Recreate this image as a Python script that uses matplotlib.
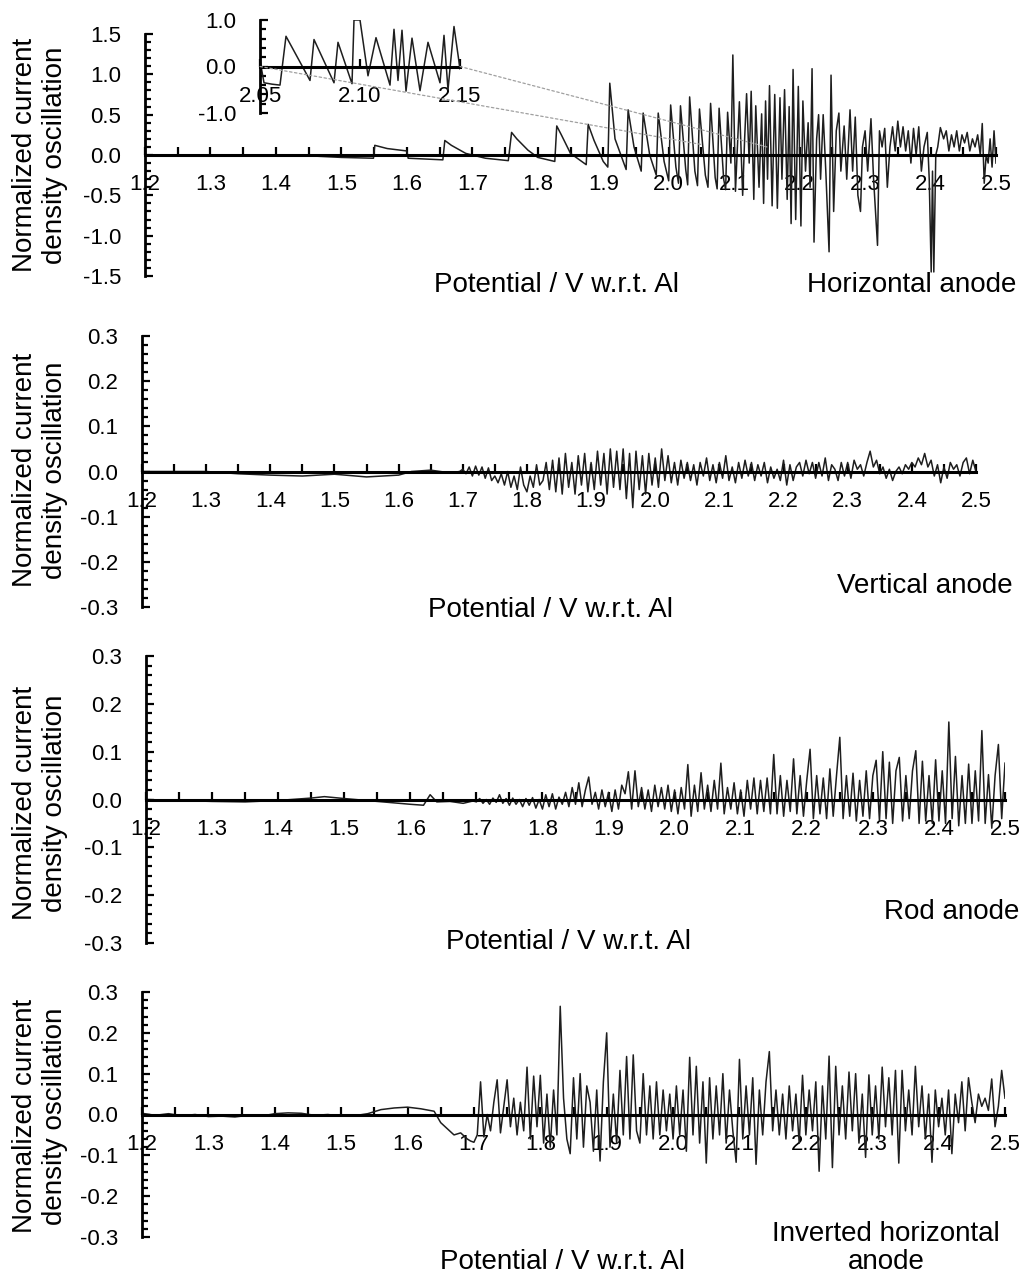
import numpy as np
import matplotlib.pyplot as plt
from matplotlib.ticker import MultipleLocator, FormatStrFormatter
from matplotlib.patches import ConnectionPatch

plt.rcParams['font.family'] = ['Liberation Sans', 'DejaVu Sans']
plt.rcParams['axes.unicode_minus'] = False

W, H = 1032, 1276
LINE = '#1e1e1e'

# ── Horizontal anode: vertices ────────────────────────────────────
horiz_x = [1.200, 1.300, 1.400, 1.450, 1.500, 1.549, 1.551, 1.570, 1.600, 1.602,
           1.630, 1.655, 1.658, 1.668, 1.690, 1.720, 1.755, 1.760, 1.768, 1.785,
           1.800, 1.826, 1.829, 1.836, 1.850, 1.874, 1.877, 1.886, 1.900, 1.907,
           1.910, 1.918, 1.935, 1.938, 1.947, 1.958, 1.961, 1.971, 1.981, 1.984,
           1.993, 2.000, 2.003, 2.011, 2.015, 2.018, 2.026, 2.029, 2.032, 2.040,
           2.044, 2.047, 2.056, 2.060, 2.064, 2.071, 2.074, 2.077, 2.084, 2.087,
           2.090, 2.095, 2.098, 2.102, 2.105, 2.108, 2.113, 2.116, 2.119, 2.123,
           2.126, 2.130, 2.133, 2.138, 2.142, 2.145, 2.148, 2.151, 2.154, 2.158,
           2.162, 2.166, 2.170, 2.173, 2.177, 2.181, 2.184, 2.187, 2.190, 2.194,
           2.198, 2.202, 2.205, 2.209, 2.213, 2.216, 2.219, 2.222, 2.226, 2.229,
           2.232, 2.236, 2.240, 2.245, 2.248, 2.252, 2.256, 2.260, 2.263, 2.268,
           2.272, 2.277, 2.281, 2.285, 2.289, 2.293, 2.296, 2.300, 2.304, 2.309,
           2.313, 2.319, 2.322, 2.326, 2.330, 2.334, 2.338, 2.342, 2.346, 2.350,
           2.354, 2.358, 2.362, 2.366, 2.370, 2.374, 2.378, 2.382, 2.386, 2.390,
           2.395, 2.398, 2.401, 2.403, 2.405, 2.408, 2.411, 2.415, 2.420, 2.424,
           2.428, 2.432, 2.436, 2.440, 2.444, 2.448, 2.452, 2.456, 2.460, 2.464,
           2.468, 2.472, 2.476, 2.479, 2.482, 2.485, 2.488, 2.491, 2.494, 2.497,
           2.500]
horiz_y = [0.00, 0.00, -0.01, -0.01, -0.03, -0.04, 0.12, 0.08, 0.05, -0.04,
           -0.05, -0.06, 0.18, 0.12, 0.02, -0.04, -0.07, 0.28, 0.20, 0.06,
           -0.03, -0.08, 0.36, 0.25, 0.02, -0.12, 0.38, 0.18, -0.08, -0.15,
           0.89, 0.20, -0.18, 0.56, 0.10, -0.20, 0.52, 0.00, -0.25, 0.52,
           -0.08, -0.32, 0.62, -0.15, -0.35, 0.61, -0.18, -0.37, 0.72, -0.20,
           -0.38, 0.57, -0.25, -0.40, 0.64, -0.28, -0.42, 0.58, -0.30, -0.43,
           0.53, -0.10, 1.24, -0.45, 0.10, 0.66, -0.50, 0.20, 0.76, -0.10,
           0.79, -0.55, 0.61, -0.40, 0.51, -0.60, 0.67, -0.30, 0.86, -0.63,
           0.75, -0.66, 0.71, -0.30, 0.81, -0.55, 0.60, -0.85, 1.06, -0.80,
           0.85, -0.88, 0.67, -0.20, 0.40, -0.40, 1.07, -1.08, 0.20, 0.50,
           -0.30, 0.50, -0.20, -1.20, 0.99, -0.70, 0.30, 0.52, -0.20, 0.36,
           -0.30, 0.56, -0.20, 0.47, -0.50, -0.70, 0.10, 0.30, -0.20, 0.45,
           -0.30, -1.12, 0.30, 0.10, 0.33, -0.40, 0.10, 0.35, 0.05, 0.42,
           0.10, 0.35, 0.05, 0.30, -0.10, 0.33, 0.00, 0.35, -0.20, 0.10,
           0.28, -0.30, -1.45, -0.20, -1.45, 0.00, 0.10, 0.34, 0.20, 0.30,
           0.05, 0.25, 0.10, 0.30, 0.05, 0.25, 0.15, 0.28, 0.05, 0.20,
           0.10, 0.25, 0.00, 0.39, -0.35, 0.00, -0.10, 0.20, -0.15, 0.30,
           -0.10]

# inset (2.05 - 2.15 V)
inset_x = [2.050, 2.052, 2.056, 2.060, 2.063, 2.075, 2.077, 2.087, 2.089, 2.096,
           2.097, 2.100, 2.104, 2.108, 2.115, 2.117, 2.119, 2.121, 2.123, 2.126,
           2.130, 2.134, 2.140, 2.142, 2.144, 2.147, 2.150]
inset_y = [0.13, -0.35, -0.38, -0.40, 0.65, -0.30, 0.58, -0.35, 0.52, -0.37,
           1.00, 1.00, -0.20, 0.62, -0.40, 0.80, -0.30, 0.78, -0.53, 0.61,
           -0.52, 0.52, -0.35, 0.67, -0.50, 0.86, -0.05]

# ── Vertical anode ────────────────────────────────────────────────
vert_quiet_x = [1.20, 1.30, 1.35, 1.40, 1.45, 1.50, 1.55, 1.60, 1.62, 1.65, 1.68, 1.695]
vert_quiet_y = [0.0, 0.0, -0.005, -0.008, -0.01, -0.006, -0.012, -0.008, 0.0, 0.003, -0.003, 0.0]
vert_noisy_y = [
    0.005, -0.005, 0.01, -0.01, 0.012, -0.008, 0.01, -0.015, 0.008, -0.02,
    -0.01, -0.025, -0.005, -0.03, 0.0, -0.035, -0.01, -0.04, 0.01, -0.03,
    -0.045, -0.01, -0.035, 0.015, -0.03, -0.02, 0.02, -0.04, 0.025, -0.045,
    0.03, -0.05, 0.04, -0.035, 0.02, -0.05, 0.035, -0.03, 0.04, -0.045,
    0.02, -0.04, 0.045, -0.03, 0.04, -0.05, 0.05, -0.035, 0.045, -0.04,
    0.05, -0.06, 0.04, -0.08, 0.045, -0.04, 0.035, -0.05, 0.04, -0.03,
    0.03, -0.035, 0.05, -0.02, 0.035, -0.025, 0.02, -0.03, 0.025, -0.015,
    0.02, -0.02, 0.015, -0.03, 0.02, -0.01, 0.03, -0.02, 0.015, -0.025,
    0.02, -0.015, 0.035, -0.02, 0.01, -0.025, 0.02, -0.015, 0.025, -0.01,
    0.02, -0.02, 0.015, -0.01, 0.02, -0.025, 0.01, -0.015, 0.005, -0.02,
    0.025, -0.03, 0.015, -0.02, 0.01, 0.02, -0.01, 0.025, -0.005, 0.02,
    -0.015, 0.02, -0.01, 0.03, -0.02, 0.015, 0.005, -0.02, 0.02, -0.01,
    0.02, -0.015, 0.025, 0.005, 0.015, -0.01, 0.02, 0.045, 0.01, 0.025,
    -0.005, 0.01, -0.015, 0.005, -0.02, 0.0, 0.01, -0.005, 0.015, 0.005,
    0.02, 0.01, 0.03, 0.015, 0.04, 0.01, 0.025, -0.01, 0.015, -0.025,
    0.01, -0.015, 0.02, 0.005, 0.015, -0.01, 0.02, 0.03, -0.005, 0.025,
    0.0]

# ── Rod anode ─────────────────────────────────────────────────────
rod_quiet_x = [1.20, 1.25, 1.30, 1.35, 1.40, 1.45, 1.47, 1.50, 1.55, 1.60,
               1.62, 1.63, 1.64, 1.66, 1.68, 1.695]
rod_quiet_y = [0.0, -0.002, -0.004, -0.005, -0.002, 0.003, 0.006, 0.002, -0.004, -0.01,
               -0.012, 0.01, -0.005, -0.004, -0.008, -0.003]
rod_noisy_y = [
    -0.005, 0.002, -0.008, 0.0, -0.01, 0.003, -0.006, 0.01, -0.008, 0.002,
    -0.012, 0.003, -0.01, 0.0, -0.015, 0.002, -0.012, 0.004, -0.018, 0.0,
    -0.02, 0.01, -0.015, 0.012, -0.02, 0.005, -0.01, 0.015, -0.015, 0.025,
    -0.01, 0.035, -0.015, 0.02, 0.047, -0.01, 0.015, -0.02, 0.02, -0.015,
    0.015, -0.025, 0.02, -0.02, 0.03, 0.012, 0.058, -0.02, 0.06, -0.015,
    0.025, -0.02, 0.02, -0.025, 0.03, -0.015, 0.025, -0.02, 0.03, -0.025,
    0.02, -0.03, 0.025, -0.02, 0.073, -0.035, 0.03, -0.025, 0.056, -0.02,
    0.03, -0.025, 0.04, -0.02, 0.076, -0.03, 0.025, -0.02, 0.035, -0.03,
    0.02, -0.035, 0.04, -0.02, 0.045, -0.03, 0.04, -0.025, 0.045, -0.03,
    0.094, -0.03, 0.05, -0.035, 0.04, -0.025, 0.085, -0.03, 0.05, -0.035,
    0.04, 0.105, -0.04, 0.05, -0.03, 0.045, -0.04, 0.064, -0.035, 0.05,
    0.13, -0.04, 0.05, -0.035, 0.055, -0.045, 0.04, -0.035, 0.06, -0.04,
    0.05, 0.082, -0.045, 0.1, -0.04, 0.078, -0.05, 0.06, 0.088, -0.045,
    0.05, -0.04, 0.06, 0.102, -0.05, 0.08, -0.045, 0.05, -0.05, 0.083,
    -0.045, 0.06, -0.05, 0.162, -0.04, 0.09, -0.055, 0.05, -0.05, 0.074,
    -0.05, 0.06, -0.045, 0.144, -0.05, 0.052, -0.06, 0.05, 0.115, -0.04,
    0.076]

# ── Inverted horizontal anode ─────────────────────────────────────
inv_quiet_x = [1.20, 1.22, 1.24, 1.26, 1.28, 1.30, 1.32, 1.34, 1.36, 1.38,
               1.40, 1.42, 1.44, 1.46, 1.48, 1.50, 1.52, 1.54, 1.56, 1.58,
               1.60, 1.62, 1.64, 1.65, 1.66, 1.67, 1.68, 1.69, 1.695]
inv_quiet_y = [0.003, -0.002, 0.002, -0.003, 0.0, -0.005, -0.004, -0.006, -0.002, -0.004,
               0.002, 0.004, 0.003, -0.002, 0.0, -0.004, -0.003, 0.002, 0.012, 0.016,
               0.018, 0.014, 0.008, -0.02, -0.035, -0.05, -0.045, -0.06, -0.065]
inv_noisy_y = [
    -0.068, -0.05, 0.08, -0.055, 0.0, -0.04, 0.03, 0.085, -0.045, 0.02,
    0.085, -0.03, 0.04, -0.05, 0.03, -0.04, 0.116, -0.06, 0.094, -0.03,
    0.096, -0.07, 0.05, -0.08, 0.06, -0.05, 0.265, 0.04, -0.06, -0.096,
    0.09, -0.06, 0.1, -0.08, 0.07, 0.03, -0.09, 0.06, -0.114, 0.08,
    0.2, -0.08, 0.05, -0.07, 0.108, -0.05, 0.142, -0.06, 0.146, -0.04,
    -0.07, 0.1, -0.05, 0.07, -0.06, 0.08, -0.05, 0.06, -0.04, 0.05,
    -0.06, 0.07, -0.05, 0.06, -0.09, 0.14, -0.05, 0.118, -0.07, 0.08,
    -0.119, 0.09, -0.06, 0.07, -0.05, 0.1, -0.07, 0.06, -0.04, -0.117,
    0.135, -0.06, 0.07, -0.05, 0.09, -0.122, 0.06, -0.05, 0.08, 0.154,
    -0.04, 0.06, -0.05, 0.05, -0.06, 0.07, -0.04, 0.05, -0.07, 0.096,
    -0.05, 0.06, -0.04, 0.08, -0.139, 0.07, -0.06, 0.143, -0.13, 0.118,
    -0.05, 0.07, -0.06, 0.104, -0.04, 0.1, -0.07, 0.05, -0.105, 0.097,
    -0.05, 0.07, -0.06, 0.116, -0.03, 0.09, -0.05, 0.108, -0.119, 0.108,
    -0.04, 0.06, -0.05, 0.118, -0.03, 0.07, -0.06, 0.05, -0.117, 0.06,
    -0.03, 0.04, -0.05, 0.06, -0.096, 0.05, -0.02, 0.08, -0.04, 0.09,
    0.03, -0.02, 0.05, 0.02, 0.04, 0.01, 0.087, -0.03, 0.02, 0.108,
    0.04]

# sampling grid of the noisy part (1.700 ... 2.500 V, every 5 mV)
grid_x = np.round(np.arange(1.700, 2.5001, 0.005), 3)

XLABEL = 'Potential / V w.r.t. Al'
YLABEL = 'Normalized current\ndensity oscillation'


def px(x, y):
    return x / W, 1 - y / H


def rect(x0, x1, ytop, ybot):
    return [x0 / W, 1 - ybot / H, (x1 - x0) / W, (ybot - ytop) / H]


def style(ax, xlim, ylim, xmaj, xmin, ymaj, ymin, xfmt, yfmt):
    ax.set_xlim(*xlim)
    ax.set_ylim(*ylim)
    ax.patch.set_alpha(0)
    ax.spines[['top', 'right']].set_visible(False)
    ax.spines['left'].set_position(('data', xlim[0]))
    ax.spines['bottom'].set_position(('data', 0))
    ax.spines['left'].set_linewidth(2)
    ax.spines['bottom'].set_linewidth(2.2)
    ax.xaxis.set_major_locator(MultipleLocator(xmaj))
    ax.xaxis.set_minor_locator(MultipleLocator(xmin))
    ax.yaxis.set_major_locator(MultipleLocator(ymaj))
    ax.yaxis.set_minor_locator(MultipleLocator(ymin))
    ax.xaxis.set_major_formatter(FormatStrFormatter(xfmt))
    ax.yaxis.set_major_formatter(FormatStrFormatter(yfmt))
    ax.tick_params(which='both', direction='in', width=1.6, labelsize=16, color='black')
    ax.tick_params(axis='x', which='both', length=6, pad=14)
    ax.tick_params(axis='y', which='major', length=6, pad=17)
    ax.tick_params(axis='y', which='minor', length=4)


fig = plt.figure(figsize=(W / 100, H / 100), dpi=100)

panels = [
    (rect(145, 996, 34, 276), 1.5, 0.5, 0.1,
     (557, 285), 'Horizontal anode', (912, 285), 155),
    (rect(142, 976, 336, 607), 0.3, 0.1, 0.02,
     (551, 610), 'Vertical anode', (925, 586), 470),
    (rect(146, 1005, 656, 943), 0.3, 0.1, 0.02,
     (568, 942), 'Rod anode', (952, 912), 803),
    (rect(142, 1005, 992, 1237), 0.3, 0.1, 0.02,
     (562, 1262), 'Inverted horizontal\nanode', (886, 1248), 1116),
]
traces = [
    (horiz_x, horiz_y),
    (vert_quiet_x + list(grid_x), vert_quiet_y + vert_noisy_y),
    (rod_quiet_x + list(grid_x), rod_quiet_y + rod_noisy_y),
    (inv_quiet_x + list(grid_x), inv_quiet_y + inv_noisy_y),
]

axes = []
for (pos, ylim, ymaj, ymin, xl_pos, name, name_pos, ylab_y), (tx, ty) in zip(panels, traces):
    ax = fig.add_axes(pos)
    ax.plot(tx, ty, color=LINE, lw=1.1, zorder=2)
    style(ax, (1.2, 2.5), (-ylim, ylim), 0.1, 0.05, ymaj, ymin, '%.1f', '%.1f')
    fig.text(*px(*xl_pos), XLABEL, fontsize=20, ha='center', va='center')
    fig.text(*px(*name_pos), name, fontsize=20, ha='center', va='center',
             multialignment='center', linespacing=1.1)
    fig.text(*px(40, ylab_y), YLABEL, fontsize=20, rotation=90, ha='center',
             va='center', multialignment='center', linespacing=1.15)
    axes.append(ax)

# ── inset on the horizontal anode panel ───────────────────────────
ax1 = axes[0]
axin = fig.add_axes(rect(260, 460, 20, 113))
axin.plot(inset_x, inset_y, color=LINE, lw=1.1)
style(axin, (2.05, 2.15), (-1.0, 1.0), 0.05, 0.05, 1.0, 0.2, '%.2f', '%.1f')

for xa, xb, yb in [(2.05, 2.05, 0.13), (2.15, 2.15, 0.10)]:
    con = ConnectionPatch(xyA=(xa, 0), coordsA='data', axesA=axin,
                          xyB=(xb, yb), coordsB='data', axesB=ax1,
                          color='#a0a0a0', lw=0.9, ls=(0, (2, 2)))
    fig.add_artist(con)

fig.savefig('out.png', dpi=100, facecolor='white')
